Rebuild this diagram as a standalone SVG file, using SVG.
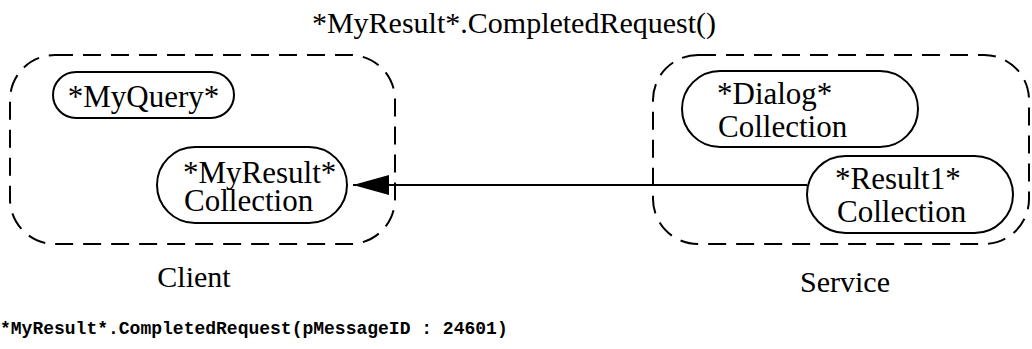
<svg xmlns="http://www.w3.org/2000/svg" width="1032" height="349" viewBox="0 0 1032 349">
  <style>
    .serif { font-family: 'Liberation Serif', 'Times New Roman', serif; font-size: 31px; fill: #000; }
    .label { font-size: 30px; }
    .mono { font-family: 'Liberation Mono', 'Courier New', monospace; font-size: 18px; font-weight: bold; fill: #000; }
    .group { fill: none; stroke: #000; stroke-width: 2; stroke-dasharray: 18 10; }
    .pill { fill: #fff; stroke: #000; stroke-width: 2; }
    .edge { fill: none; stroke: #000; stroke-width: 2; }
  </style>
  <defs>
    <marker id="arrow" markerUnits="userSpaceOnUse" markerWidth="40" markerHeight="24" refX="36" refY="10" orient="auto">
      <path d="M0,0 L36,10 L0,20 Z" fill="#000"/>
    </marker>
  </defs>
  <rect width="1032" height="349" fill="#fff"/>

  <text class="serif label" x="514" y="33" text-anchor="middle">*MyResult*.CompletedRequest()</text>

  <!-- client container -->
  <g id="client">
    <rect class="group" x="10" y="55" width="385" height="189" rx="45" ry="45"/>
    <text class="serif label" x="194" y="287" text-anchor="middle">Client</text>
  </g>

  <!-- service container -->
  <g id="service">
    <rect class="group" x="653" y="55" width="376" height="189" rx="45" ry="45"/>
    <text class="serif label" x="845" y="292" text-anchor="middle">Service</text>
  </g>

  <g id="myquery">
    <rect class="pill" x="53" y="72" width="181" height="46" rx="23" ry="23"/>
    <text class="serif" x="143.5" y="107" text-anchor="middle">*MyQuery*</text>
  </g>

  <g id="myresult">
    <rect class="pill" x="157" y="147" width="190" height="76" rx="38" ry="38"/>
    <text class="serif" x="183" y="183">*MyResult*</text>
    <text class="serif" x="184" y="211">Collection</text>
  </g>

  <g id="dialog">
    <rect class="pill" x="682" y="71" width="236" height="76" rx="38" ry="38"/>
    <text class="serif" x="717" y="104">*Dialog*</text>
    <text class="serif" x="718" y="137">Collection</text>
  </g>

  <g id="result1">
    <rect class="pill" x="807" y="156" width="206" height="77" rx="38.5" ry="38.5"/>
    <text class="serif" x="835" y="189">*Result1*</text>
    <text class="serif" x="837" y="222">Collection</text>
  </g>

  <g id="connectors">
    <line class="edge" x1="807" y1="185" x2="353" y2="185" marker-end="url(#arrow)"/>
  </g>

  <text class="mono" x="0" y="334">*MyResult*.CompletedRequest(pMessageID : 24601)</text>
</svg>
